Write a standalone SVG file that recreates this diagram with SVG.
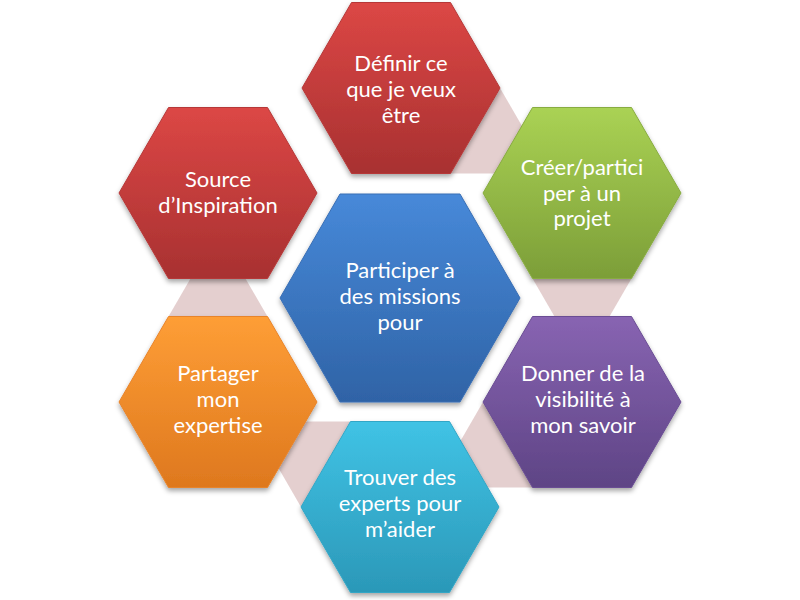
<svg xmlns="http://www.w3.org/2000/svg" xmlns:xlink="http://www.w3.org/1999/xlink" width="800" height="600" viewBox="0 0 800 600">
<style>
.lbl{font-family:"Lato","Liberation Sans",sans-serif;font-size:22px;fill:#ffffff;text-anchor:middle}
.conn{fill:#e4cfcf}
.hx{filter:url(#sh);stroke-width:1}
</style>
<defs>
<filter id="sh" x="-20%" y="-20%" width="140%" height="150%">
<feDropShadow dx="0" dy="3" stdDeviation="2.5" flood-color="#000" flood-opacity="0.35"/>
</filter>
<linearGradient id="gRed" x1="0" y1="0" x2="0" y2="1"><stop offset="0" stop-color="#dc4745"/><stop offset="1" stop-color="#a83131"/></linearGradient>
<linearGradient id="gGreen" x1="0" y1="0" x2="0" y2="1"><stop offset="0" stop-color="#aad254"/><stop offset="1" stop-color="#7c9e38"/></linearGradient>
<linearGradient id="gPurple" x1="0" y1="0" x2="0" y2="1"><stop offset="0" stop-color="#8864b2"/><stop offset="1" stop-color="#5e4485"/></linearGradient>
<linearGradient id="gCyan" x1="0" y1="0" x2="0" y2="1"><stop offset="0" stop-color="#40c3e5"/><stop offset="1" stop-color="#2b98b8"/></linearGradient>
<linearGradient id="gOrange" x1="0" y1="0" x2="0" y2="1"><stop offset="0" stop-color="#fe9e36"/><stop offset="1" stop-color="#de781e"/></linearGradient>
<linearGradient id="gBlue" x1="0" y1="0" x2="0" y2="1"><stop offset="0" stop-color="#4789d9"/><stop offset="1" stop-color="#2f63a6"/></linearGradient>
<polygon id="hexO" points="-99,0 -49.5,-85.5 49.5,-85.5 99,0 49.5,85.5 -49.5,85.5"/>
<polygon id="hexC" points="-120,0 -60,-104 60,-104 120,0 60,104 -60,104"/>
</defs>
<rect width="800" height="600" fill="#ffffff"/>
<g id="connectors">
<polygon class="conn" points="500,88 450.5,173.5 549.5,173.5"/>
<polygon class="conn" points="532.5,278.5 631.5,278.5 582,364"/>
<polygon class="conn" points="483,402 532.5,487.5 433.5,487.5"/>
<polygon class="conn" points="350.5,421.5 301,507 251.5,421.5"/>
<polygon class="conn" points="168.5,316.5 267.5,316.5 218,231"/>
</g>
<g id="node-center">
<use xlink:href="#hexC" href="#hexC" x="400" y="298" class="hx" fill="url(#gBlue)" stroke="#3a6fb5"/>
<text class="lbl" x="400" y="278">Participer à</text>
<text class="lbl" x="400" y="304">des missions</text>
<text class="lbl" x="400" y="330">pour</text>
</g>
<g id="node-definir">
<use xlink:href="#hexO" href="#hexO" x="401" y="88" class="hx" fill="url(#gRed)" stroke="#b63838"/>
<text class="lbl" x="401" y="71">Définir ce</text>
<text class="lbl" x="401" y="97">que je veux</text>
<text class="lbl" x="401" y="123">être</text>
</g>
<g id="node-creer">
<use xlink:href="#hexO" href="#hexO" x="582" y="193" class="hx" fill="url(#gGreen)" stroke="#88ac40"/>
<text class="lbl" x="582" y="175">Créer/partici</text>
<text class="lbl" x="582" y="201">per à un</text>
<text class="lbl" x="582" y="226">projet</text>
</g>
<g id="node-donner">
<use xlink:href="#hexO" href="#hexO" x="582" y="402" class="hx" fill="url(#gPurple)" stroke="#6a4d94"/>
<text class="lbl" x="583" y="381">Donner de la</text>
<text class="lbl" x="583" y="407">visibilité à</text>
<text class="lbl" x="583" y="433">mon savoir</text>
</g>
<g id="node-trouver">
<use xlink:href="#hexO" href="#hexO" x="400" y="507" class="hx" fill="url(#gCyan)" stroke="#31a6c6"/>
<text class="lbl" x="400" y="485">Trouver des</text>
<text class="lbl" x="400" y="511">experts pour</text>
<text class="lbl" x="400" y="537">m’aider</text>
</g>
<g id="node-partager">
<use xlink:href="#hexO" href="#hexO" x="218" y="402" class="hx" fill="url(#gOrange)" stroke="#e8842a"/>
<text class="lbl" x="218" y="381">Partager</text>
<text class="lbl" x="218" y="407">mon</text>
<text class="lbl" x="218" y="433">expertise</text>
</g>
<g id="node-source">
<use xlink:href="#hexO" href="#hexO" x="218" y="193" class="hx" fill="url(#gRed)" stroke="#b63838"/>
<text class="lbl" x="218" y="187">Source</text>
<text class="lbl" x="218" y="213">d’Inspiration</text>
</g>
</svg>
